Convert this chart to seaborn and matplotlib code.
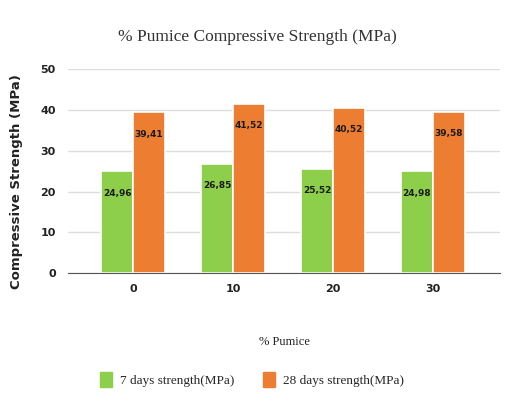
import matplotlib.pyplot as plt
import seaborn as sns
import pandas as pd

pumice = ['0', '10', '20', '30']
days7 = [24.96, 26.85, 25.52, 24.98]
days28 = [39.41, 41.52, 40.52, 39.58]
series = ['7 days strength(MPa)', '28 days strength(MPa)']

df = pd.DataFrame({
    'pumice': pumice * 2,
    'strength': days7 + days28,
    'series': [series[0]] * 4 + [series[1]] * 4,
})

sns.set_style('white')
plt.rcParams['font.family'] = ['Liberation Serif', 'DejaVu Serif']

fig = plt.figure(figsize=(5.09, 3.93), dpi=100)
ax = fig.add_axes([0.134, 0.305, 0.848, 0.519])

sns.barplot(data=df, x='pumice', y='strength', hue='series',
            palette=['#8DCF4A', '#ED7D31'], width=0.64, saturation=1,
            edgecolor='white', linewidth=1.2, legend=False, ax=ax)

for cont in ax.containers:
    labels = [f'{b.get_height():.2f}'.replace('.', ',') for b in cont]
    ax.bar_label(cont, labels=labels, label_type='edge', padding=-19,
                 fontsize=6.5, fontweight='bold', color='#1a1a1a',
                 family='DejaVu Sans')

ax.set_ylim(0, 50)
ax.set_yticks([0, 10, 20, 30, 40, 50])
ax.set_xlim(-0.65, 3.67)
ax.yaxis.grid(True, color='#dddddd', linewidth=1)
ax.set_axisbelow(True)
for s in ['top', 'right', 'left']:
    ax.spines[s].set_visible(False)
ax.spines['bottom'].set_color('#555555')
ax.tick_params(axis='both', length=0, labelsize=8, colors='#222222')
ax.tick_params(axis='y', pad=9)
ax.tick_params(axis='x', pad=8)
for lab in ax.get_xticklabels() + ax.get_yticklabels():
    lab.set_family('DejaVu Sans')
    lab.set_fontweight('bold')

fig.text(0.505, 0.905, '% Pumice Compressive Strength (MPa)', ha='center', va='center',
         fontsize=12.5, color='#333333')
ax.set_xlabel('% Pumice', fontsize=9, color='#222222', labelpad=30)
ax.set_ylabel('Compressive Strength (MPa)', fontsize=9.5, fontweight='bold',
              color='#222222', family='DejaVu Sans')
ax.yaxis.set_label_coords(-0.105, 0.45)

handles = [plt.Rectangle((0, 0), 1, 1, color=c) for c in ['#8DCF4A', '#ED7D31']]
fig.legend(handles, series, loc='center', bbox_to_anchor=(0.495, 0.035), ncol=2,
           frameon=False, fontsize=9.5, handlelength=0.9, handleheight=1.4,
           handletextpad=0.6, columnspacing=2.2)

fig.savefig('out.png', dpi=100)
